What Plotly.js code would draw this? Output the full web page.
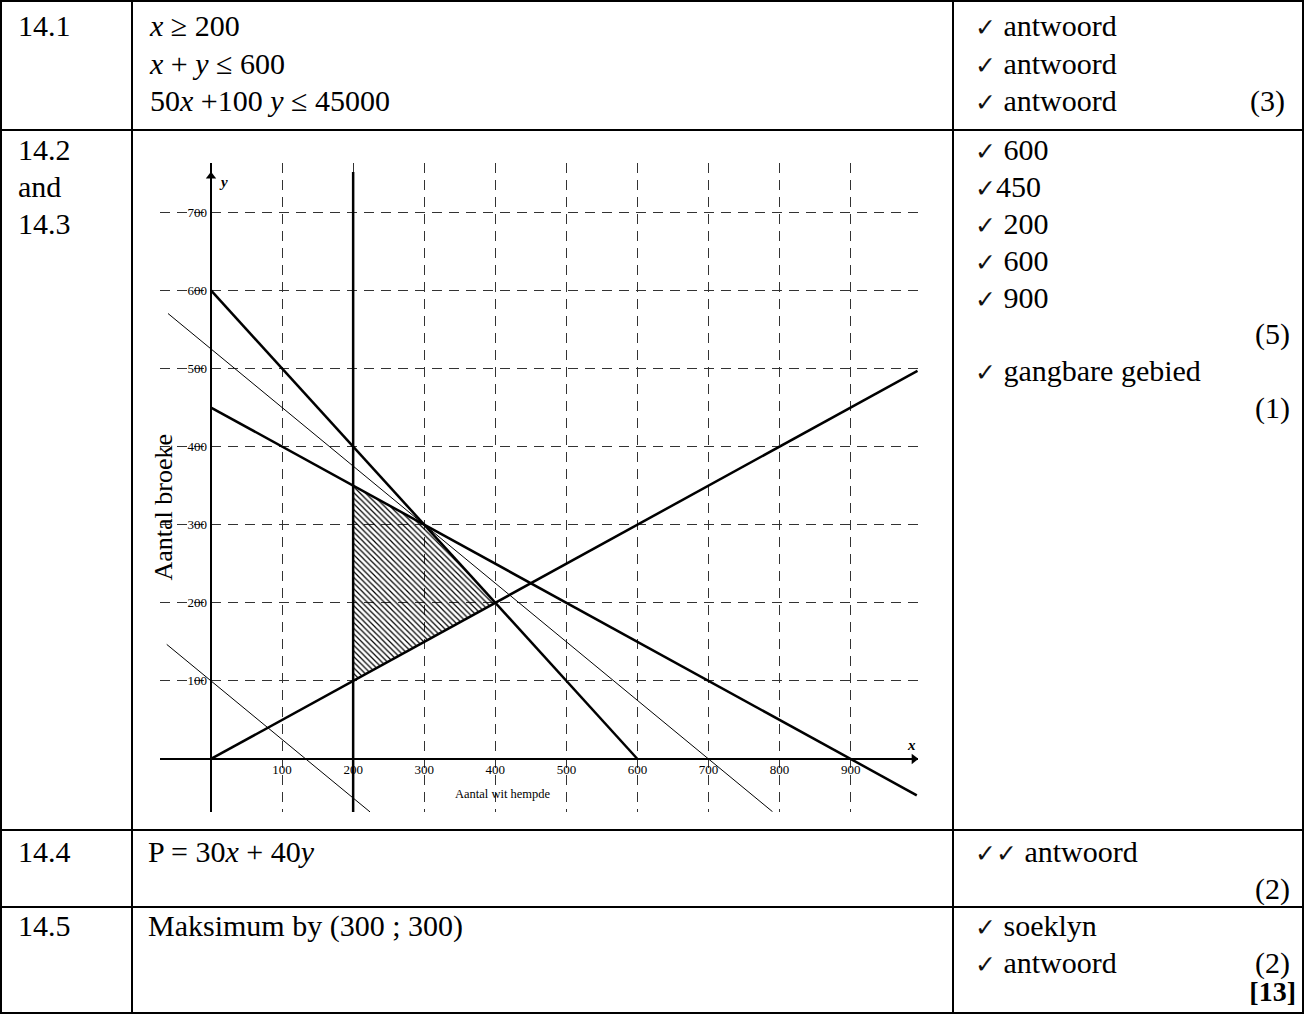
<!DOCTYPE html>
<html>
<head>
<meta charset="utf-8">
<script src="https://cdn.plot.ly/plotly-3.0.1.min.js"></script>
<style>
  html, body { margin:0; padding:0; background:#fff; }
  #page { position:relative; width:1304px; height:1014px; overflow:hidden; font-family:"Liberation Serif","Times New Roman",serif; color:#000; }
  .ln { position:absolute; background:#000; }
  .t { position:absolute; font-size:30px; line-height:30px; white-space:nowrap; }
  .r { text-align:right; }
  .ck { font-family:"DejaVu Sans",sans-serif; font-size:25px; font-weight:normal; color:#111; }
  #chart { position:absolute; left:134px; top:132px; width:818px; height:697px; }
</style>
</head>
<body>
<div id="page">
  <!-- table borders -->
  <div class="ln" style="left:0;top:0;width:1304px;height:2px"></div>
  <div class="ln" style="left:0;top:129px;width:1304px;height:2px"></div>
  <div class="ln" style="left:0;top:829px;width:1304px;height:2px"></div>
  <div class="ln" style="left:0;top:906px;width:1304px;height:2px"></div>
  <div class="ln" style="left:0;top:1012px;width:1304px;height:2px"></div>
  <div class="ln" style="left:0;top:0;width:2px;height:1014px"></div>
  <div class="ln" style="left:131px;top:0;width:2px;height:1014px"></div>
  <div class="ln" style="left:952px;top:0;width:2px;height:1014px"></div>
  <div class="ln" style="left:1302px;top:0;width:2px;height:1014px"></div>

  <!-- row 1 -->
  <div class="t" style="left:18px;top:11px">14.1</div>
  <div class="t" style="left:150px;top:11px"><i>x</i> ≥ 200</div>
  <div class="t" style="left:150px;top:49px"><i>x</i> + <i>y</i> ≤ 600</div>
  <div class="t" style="left:150px;top:86px">50<i>x</i> +100 <i>y</i> ≤ 45000</div>
  <div class="t" style="left:975px;top:11px"><span class="ck">✓</span> antwoord</div>
  <div class="t" style="left:975px;top:49px"><span class="ck">✓</span> antwoord</div>
  <div class="t" style="left:975px;top:86px"><span class="ck">✓</span> antwoord</div>
  <div class="t r" style="right:19px;top:86px">(3)</div>

  <!-- row 2 -->
  <div class="t" style="left:18px;top:135px">14.2</div>
  <div class="t" style="left:18px;top:172px">and</div>
  <div class="t" style="left:18px;top:209px">14.3</div>
  <div class="t" style="left:975px;top:135px"><span class="ck">✓</span> 600</div>
  <div class="t" style="left:975px;top:172px"><span class="ck">✓</span>450</div>
  <div class="t" style="left:975px;top:209px"><span class="ck">✓</span> 200</div>
  <div class="t" style="left:975px;top:246px"><span class="ck">✓</span> 600</div>
  <div class="t" style="left:975px;top:283px"><span class="ck">✓</span> 900</div>
  <div class="t r" style="right:14px;top:319px">(5)</div>
  <div class="t" style="left:975px;top:356px"><span class="ck">✓</span> gangbare gebied</div>
  <div class="t r" style="right:14px;top:393px">(1)</div>

  <!-- row 3 -->
  <div class="t" style="left:18px;top:837px">14.4</div>
  <div class="t" style="left:148px;top:837px">P = 30<i>x</i> + 40<i>y</i></div>
  <div class="t" style="left:975px;top:837px"><span class="ck">✓✓</span> antwoord</div>
  <div class="t r" style="right:14px;top:874px">(2)</div>

  <!-- row 4 -->
  <div class="t" style="left:18px;top:911px">14.5</div>
  <div class="t" style="left:148px;top:911px">Maksimum by (300 ; 300)</div>
  <div class="t" style="left:975px;top:911px"><span class="ck">✓</span> soeklyn</div>
  <div class="t" style="left:975px;top:948px"><span class="ck">✓</span> antwoord</div>
  <div class="t r" style="right:14px;top:948px">(2)</div>
  <div class="t r" style="right:8px;top:978px;font-weight:bold;font-size:28px;line-height:28px">[13]</div>

  <div id="chart"></div>
</div>
<script>
// ---- data ----
const xRange = [-71.75, 994.7];
const yRange = [-67.9, 763.1];
const xTickVals = [100, 200, 300, 400, 500, 600, 700, 800, 900];
const yTickVals = [100, 200, 300, 400, 500, 600, 700];

// x + y = 600
const lineSumX = [0, 600];
const lineSumY = [600, 0];
// 50x + 100y = 45000
const lineCostX = [0, 993];
const lineCostY = [450, -46.5];
// x = 200
const lineMinX = [200, 200];
const lineMinY = [-67.9, 751.6];
// y = x / 2
const lineRatioX = [0, 994];
const lineRatioY = [0, 497];
// search lines 30x + 40y = c
const searchMaxX = [-60.5, 790];
const searchMaxY = [570.4, -67.5];
const searchLowX = [-62.3, 223.7];
const searchLowY = [146.7, -67.8];
// feasible region
const feasX = [200, 200, 300, 400, 200];
const feasY = [100, 350, 300, 200, 100];
// axis arrow tips
const arrowUpX = [0], arrowUpY = [746];
const arrowRightX = [989], arrowRightY = [0];

const thick = {color:'#000', width:2.5};
const thin = {color:'#000', width:1};

const traces = [
  {x:feasX, y:feasY, mode:'lines', line:{width:0, color:'rgba(0,0,0,0)'}, fill:'toself',
   fillcolor:'rgba(0,0,0,0)',
   fillpattern:{shape:'\\', size:4, solidity:0.3, fgcolor:'#000', bgcolor:'rgba(0,0,0,0)'}},
  {x:searchMaxX, y:searchMaxY, mode:'lines', line:thin},
  {x:searchLowX, y:searchLowY, mode:'lines', line:thin},
  {x:lineSumX, y:lineSumY, mode:'lines', line:thick},
  {x:lineCostX, y:lineCostY, mode:'lines', line:thick},
  {x:lineMinX, y:lineMinY, mode:'lines', line:thick},
  {x:lineRatioX, y:lineRatioY, mode:'lines', line:thick},
  {x:arrowUpX, y:arrowUpY, mode:'markers', marker:{symbol:'triangle-up', size:9, color:'#000'}},
  {x:arrowRightX, y:arrowRightY, mode:'markers', marker:{symbol:'triangle-right', size:9, color:'#000'}}
];

const xPos = (0 - yRange[0]) / (yRange[1] - yRange[0]);
const yPos = (0 - xRange[0]) / (xRange[1] - xRange[0]);
const tickFont = {family:'Liberation Serif, Times New Roman, serif', size:13, color:'#000'};

const layout = {
  width:818, height:697,
  margin:{l:26, r:34, t:31, b:17},
  paper_bgcolor:'rgba(0,0,0,0)', plot_bgcolor:'rgba(0,0,0,0)',
  showlegend:false,
  xaxis:{range:xRange, anchor:'free', position:xPos, tickvals:xTickVals, ticktext:xTickVals.map(String),
    showgrid:true, gridcolor:'#333', gridwidth:1, griddash:'10px,7px',
    zeroline:true, zerolinecolor:'#000', zerolinewidth:2, showline:false, ticks:'', tickfont:tickFont,
    ticklabelstandoff:1, fixedrange:true},
  yaxis:{range:yRange, anchor:'free', position:yPos, tickvals:yTickVals, ticktext:yTickVals.map(String),
    showgrid:true, gridcolor:'#333', gridwidth:1, griddash:'10px,7px',
    zeroline:true, zerolinecolor:'#000', zerolinewidth:2, showline:false, ticks:'', tickfont:tickFont,
    ticklabelstandoff:4, fixedrange:true},
  annotations:[
    {x:-67.5, y:322, xref:'x', yref:'y', text:'Aantal broeke', textangle:-90, showarrow:false,
     font:{family:'Liberation Serif, Times New Roman, serif', size:26, color:'#000'}},
    {x:411, y:-45, xref:'x', yref:'y', text:'Aantal wit hempde', showarrow:false,
     font:{family:'Liberation Serif, Times New Roman, serif', size:12.5, color:'#000'}},
    {x:985, y:18, xref:'x', yref:'y', text:'<b><i>x</i></b>', showarrow:false,
     font:{family:'Liberation Serif, Times New Roman, serif', size:15, color:'#000'}},
    {x:18, y:739, xref:'x', yref:'y', text:'<b><i>y</i></b>', showarrow:false,
     font:{family:'Liberation Serif, Times New Roman, serif', size:15, color:'#000'}}
  ]
};
Plotly.newPlot('chart', traces, layout, {staticPlot:true, displayModeBar:false});
</script>
</body>
</html>
